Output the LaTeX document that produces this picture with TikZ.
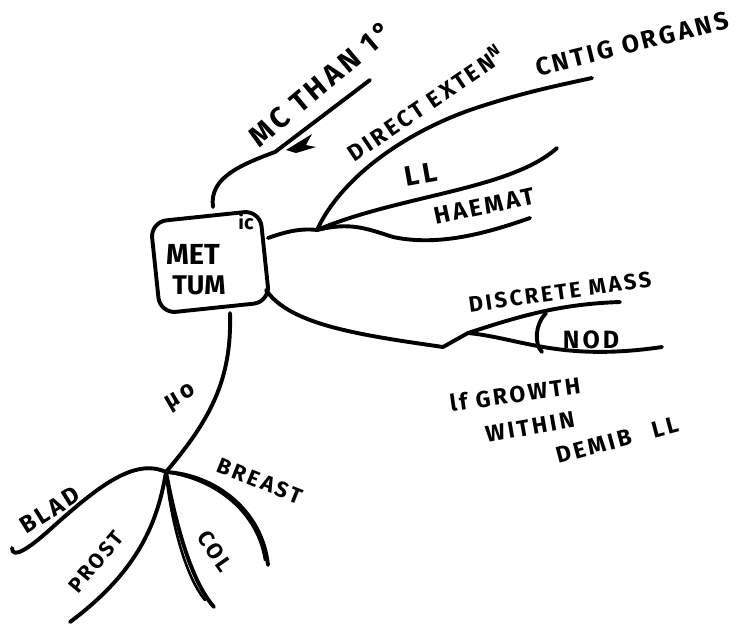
\documentclass[tikz,border=0pt]{standalone}
\usepackage{fontspec}
\setmainfont{Fira Sans}
\newfontfamily\hand{Fira Sans}[LetterSpace=12]
\begin{document}
\begin{tikzpicture}[x=1pt,y=-1pt,line cap=round,line join=round]
\tikzset{
  stroke/.style={draw=black,line width=3.9pt},
  thinstroke/.style={draw=black,line width=2.6pt},
  lbl/.style={inner sep=0pt,font=\hand\fontsize{#1}{#1}\selectfont\bfseries},
  lbl/.default=24,
  boxlbl/.style={inner sep=0pt,font=\fontsize{#1}{#1}\selectfont\bfseries}
}
\useasboundingbox (0,0) rectangle (742,625);
\fill[white] (0,0) rectangle (742,625);
% central box
\node[stroke,rounded corners=16pt,rotate=6,minimum width=110pt,minimum height=92pt] (box) at (210,262) {};
\node[boxlbl=29] (met) at (193,254) {MET};
\node[boxlbl=20] (ic) at (246,222) {ic};
\node[boxlbl=27] (tum) at (199,285) {TUM};
% attachment points
\coordinate (bT) at (213,207);
\coordinate (bR) at (268,238);
\coordinate (bBR) at (266,290);
\coordinate (bB) at (230,313);
\coordinate (fanR) at (317,230);
\coordinate (fanD) at (443,347);
\coordinate (fanD2) at (468,333);
\coordinate (fanB) at (166,472);
\coordinate (eMC) at (370,80);
\coordinate (eDir) at (592,78);
\coordinate (eLL) at (557,148);
\coordinate (eHa) at (530,218);
\coordinate (eDis) at (620,302);
\coordinate (eNod) at (662,347);
\coordinate (eBlad) at (12,548);
\coordinate (eProst) at (70,622);
\coordinate (eCol) at (214,607);
\coordinate (eBr) at (268,565);
% top branch
\draw[stroke] (bT) .. controls (209,178) and (240,165) .. (275,152) -- (eMC);
\fill (286,150) -- (312,134) -- (306,145) -- (316,147) -- (296,153) -- cycle;
\node[lbl=29,rotate=40] (mc) at (321,84) {MC THAN 1°};
% right fan
\draw[stroke] (bR) .. controls (285,232) and (300,228) .. (fanR);
\draw[stroke] (fanR) .. controls (340,180) and (400,135) .. (470,110) .. controls (520,93) and (560,85) .. (eDir);
\draw[stroke] (fanR) .. controls (400,195) and (510,190) .. (eLL);
\draw[stroke] (fanR) .. controls (350,222) and (365,228) .. (393,237) .. controls (440,247) and (490,232) .. (eHa);
\node[lbl=23,rotate=34] (dir) at (425,103) {DIRECT EXTEN\textsuperscript{N}};
\node[lbl=25,rotate=14] (org) at (632,44) {CNTIG ORGANS};
\node[lbl=28,rotate=10] (ll) at (421,174) {LL};
\node[lbl=24,rotate=12] (ha) at (484,206) {HAEMAT};
% lower right branch
\draw[stroke] (bBR) .. controls (290,325) and (360,335) .. (fanD);
\draw[stroke] (fanD) -- (fanD2);
\draw[stroke] (fanD2) .. controls (520,316) and (560,304) .. (eDis);
\draw[stroke] (fanD2) .. controls (520,338) and (560,362) .. (eNod);
\draw[stroke] (546,313) .. controls (535,324) and (534,344) .. (542,352);
\node[lbl=22,rotate=8] (dis) at (560,292) {DISCRETE MASS};
\node[lbl=25] (nod) at (591,340) {NOD};
\node[lbl=23,rotate=8] (gr) at (515,394) {lf GROWTH};
\node[lbl=23,rotate=10] (wi) at (530,427) {WITHIN};
\node[lbl=23,rotate=15] (dm) at (617,440) {DEMIB\hspace{22pt}LL};
% down branch
\draw[stroke] (bB) .. controls (232,380) and (210,420) .. (fanB);
\node[lbl=24,rotate=30] (mu) at (181,398) {μo};
\draw[stroke] (fanB) .. controls (135,458) and (100,485) .. (55,525) .. controls (30,548) and (12,560) .. (eBlad);
\draw[stroke] (fanB) .. controls (158,520) and (140,570) .. (eProst);
\draw[stroke] (fanB) .. controls (175,520) and (190,580) .. (eCol);
\draw[thinstroke] (fanB) .. controls (170,515) and (184,575) .. (205,600);
\draw[stroke] (fanB) .. controls (215,475) and (262,510) .. (eBr);
\draw[thinstroke] (fanB) .. controls (220,480) and (258,515) .. (265,560);
\node[lbl=24,rotate=32] (blad) at (50,510) {BLAD};
\node[lbl=21,rotate=50] (prost) at (96,562) {PROST};
\node[lbl=22,rotate=-22] (breast) at (260,481) {BREAST};
\node[lbl=22,rotate=-55] (col) at (215,551) {COL};
\end{tikzpicture}
\end{document}
